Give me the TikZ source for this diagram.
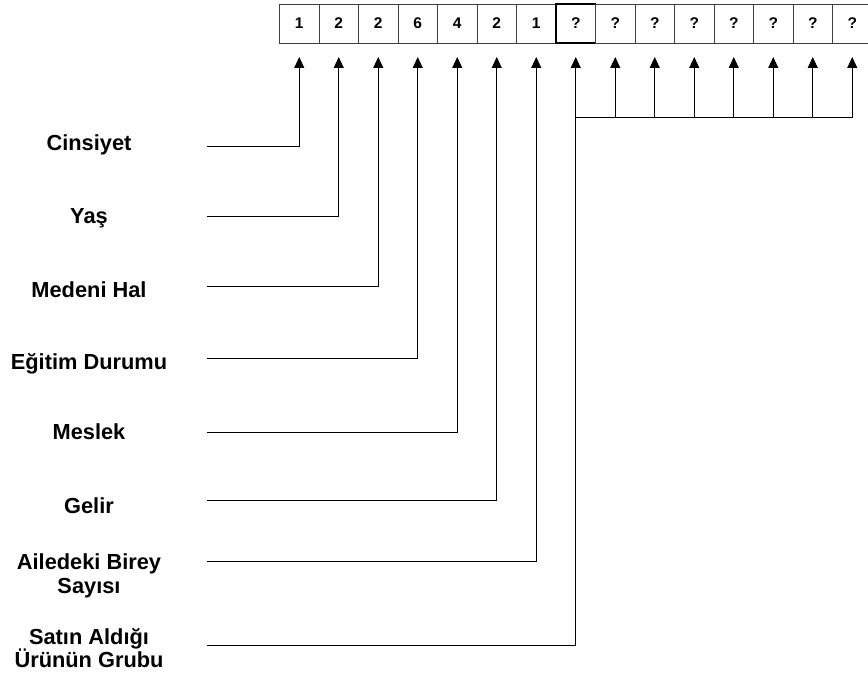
\documentclass[tikz,border=0pt]{standalone}
\usepackage{fontspec}
\setmainfont{Liberation Sans}
\usetikzlibrary{arrows.meta,positioning}
\tikzset{
  cell/.style  = {draw=black!75, line width=0.9pt, minimum width=39.5pt,
                  minimum height=39pt, inner sep=0pt, outer sep=0pt,
                  font=\fontsize{15.5}{18}\selectfont\bfseries},
  mark8/.style = {cell, draw=black, line width=1.3pt},
  lbl/.style   = {align=center, font=\fontsize{21.8}{23.5}\selectfont\bfseries},
  wire/.style  = {line width=0.9pt},
  link/.style  = {wire, -{Triangle[length=11pt,width=10pt]}, shorten >=14pt},
}
\begin{document}
\begin{tikzpicture}[x=1pt,y=-1pt]
  \useasboundingbox (0,0) rectangle (868,677);
  % code cells
  \node[cell, anchor=north west] at (279.5,4) (b1) {1};
  \node[cell, right=0pt of b1] (b2) {2};
  \node[cell, right=0pt of b2] (b3) {2};
  \node[cell, right=0pt of b3] (b4) {6};
  \node[cell, right=0pt of b4] (b5) {4};
  \node[cell, right=0pt of b5] (b6) {2};
  \node[cell, right=0pt of b6] (b7) {1};
  \node[mark8, right=0pt of b7] (b8) {?};
  \node[cell, right=0pt of b8] (b9) {?};
  \node[cell, right=0pt of b9] (b10) {?};
  \node[cell, right=0pt of b10] (b11) {?};
  \node[cell, right=0pt of b11] (b12) {?};
  \node[cell, right=0pt of b12] (b13) {?};
  \node[cell, right=0pt of b13] (b14) {?};
  \node[cell, right=0pt of b14] (b15) {?};
  % labels
  \node[lbl] at (89,145) (cins) {Cinsiyet};
  \node[lbl] at (89,218) (yas) {Yaş};
  \node[lbl] at (89,290) (medeni) {Medeni Hal};
  \node[lbl] at (89,364) (egitim) {Eğitim Durumu};
  \node[lbl] at (89,432) (meslek) {Meslek};
  \node[lbl] at (89,506) (gelir) {Gelir};
  \node[lbl] at (89,576) (aile) {Ailedeki Birey\\Sayısı};
  \node[lbl] at (89,648) (urun) {Satın Aldığı\\Ürünün Grubu};
  % line starts
  \coordinate (c1) at (207,146);
  \coordinate (c2) at (207,216);
  \coordinate (c3) at (207,286);
  \coordinate (c4) at (207,358);
  \coordinate (c5) at (207,432);
  \coordinate (c6) at (207,500);
  \coordinate (c7) at (207,561);
  \coordinate (c8) at (207,645);
  \draw[link] (c1) -| (b1.south);
  \draw[link] (c2) -| (b2.south);
  \draw[link] (c3) -| (b3.south);
  \draw[link] (c4) -| (b4.south);
  \draw[link] (c5) -| (b5.south);
  \draw[link] (c6) -| (b6.south);
  \draw[link] (c7) -| (b7.south);
  \draw[link] (c8) -| (b8.south);
  % fork to the open cells
  \coordinate (fork) at (b8.south |- 0,117);
  \foreach \k in {9,...,15}
    \draw[link] (fork) -| (b\k.south);
\end{tikzpicture}
\end{document}
